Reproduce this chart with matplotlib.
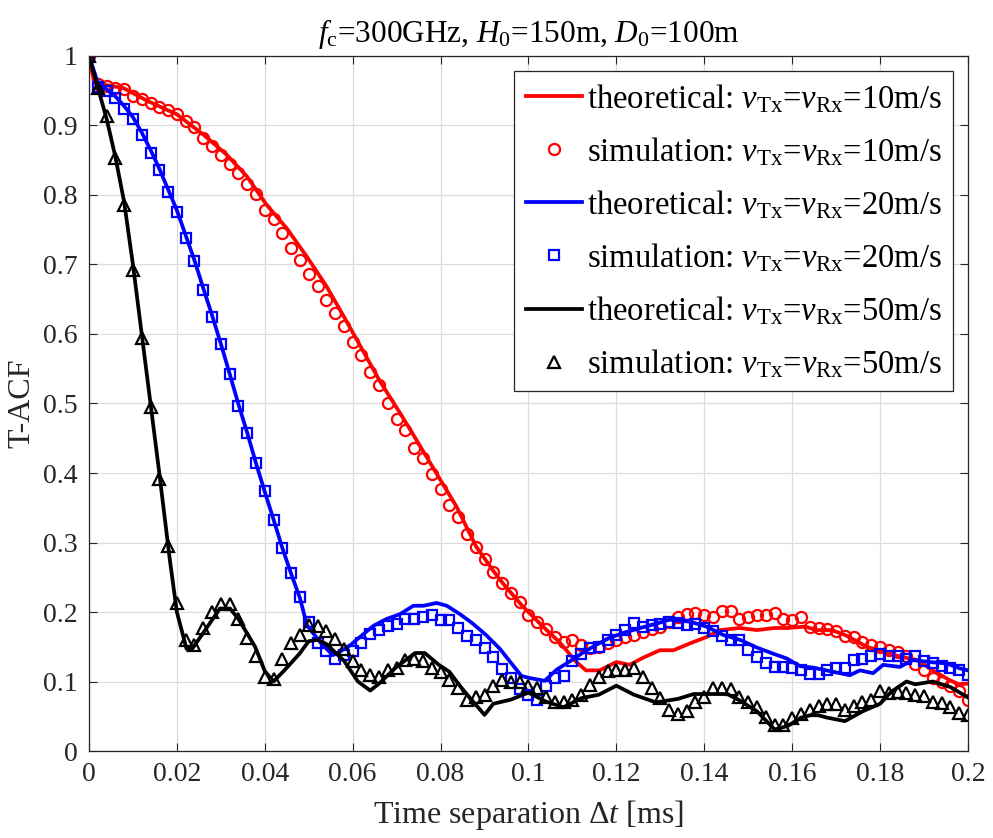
import numpy as np
import matplotlib
matplotlib.use('Agg')
import matplotlib.pyplot as plt

plt.rcParams['font.family'] = ['Liberation Serif', 'DejaVu Serif']
plt.rcParams['mathtext.fontset'] = 'custom'
plt.rcParams['mathtext.rm'] = 'Liberation Serif'
plt.rcParams['mathtext.it'] = 'Liberation Serif:italic'
plt.rcParams['mathtext.bf'] = 'Liberation Serif:bold'

# simulation samples, every 0.002 ms
sim_x = [i * 0.002 for i in range(101)]

sim_10 = [1.0, 0.959, 0.957, 0.954, 0.952, 0.943, 0.938, 0.933, 0.927, 0.922,
          0.916, 0.906, 0.898, 0.882, 0.871, 0.858, 0.845, 0.831, 0.816, 0.801,
          0.778, 0.765, 0.746, 0.724, 0.707, 0.686, 0.669, 0.649, 0.630, 0.612,
          0.588, 0.570, 0.545, 0.526, 0.501, 0.478, 0.462, 0.436, 0.421, 0.399,
          0.377, 0.354, 0.336, 0.312, 0.294, 0.276, 0.258, 0.242, 0.227, 0.214,
          0.196, 0.186, 0.175, 0.164, 0.157, 0.160, 0.153, 0.148, 0.149, 0.156,
          0.160, 0.164, 0.167, 0.171, 0.175, 0.179, 0.185, 0.193, 0.197, 0.198,
          0.196, 0.193, 0.201, 0.201, 0.190, 0.193, 0.196, 0.196, 0.199, 0.190,
          0.189, 0.193, 0.179, 0.177, 0.175, 0.173, 0.166, 0.164, 0.157, 0.153,
          0.149, 0.146, 0.142, 0.136, 0.125, 0.117, 0.105, 0.100, 0.094, 0.087,
          0.074]

sim_20 = [1.0, 0.955, 0.949, 0.940, 0.924, 0.910, 0.886, 0.861, 0.836, 0.805,
          0.775, 0.738, 0.705, 0.663, 0.624, 0.586, 0.543, 0.497, 0.458, 0.414,
          0.374, 0.332, 0.292, 0.256, 0.221, 0.185, 0.156, 0.144, 0.132, 0.138,
          0.144, 0.155, 0.168, 0.174, 0.180, 0.183, 0.190, 0.190, 0.193, 0.196,
          0.189, 0.189, 0.177, 0.166, 0.160, 0.148, 0.135, 0.118, 0.105, 0.089,
          0.081, 0.073, 0.093, 0.105, 0.108, 0.129, 0.139, 0.148, 0.149, 0.160,
          0.167, 0.174, 0.184, 0.179, 0.181, 0.183, 0.186, 0.184, 0.181, 0.183,
          0.177, 0.173, 0.166, 0.160, 0.160, 0.146, 0.135, 0.127, 0.121, 0.121,
          0.119, 0.117, 0.111, 0.111, 0.116, 0.119, 0.119, 0.131, 0.132, 0.137,
          0.140, 0.136, 0.136, 0.133, 0.137, 0.129, 0.127, 0.122, 0.119, 0.117,
          0.109]

sim_50 = [1.0, 0.954, 0.913, 0.853, 0.786, 0.692, 0.594, 0.495, 0.391, 0.295,
          0.213, 0.160, 0.153, 0.177, 0.200, 0.212, 0.212, 0.190, 0.162, 0.136,
          0.106, 0.104, 0.132, 0.156, 0.167, 0.181, 0.180, 0.172, 0.161, 0.147,
          0.129, 0.117, 0.109, 0.106, 0.117, 0.119, 0.131, 0.133, 0.129, 0.119,
          0.114, 0.102, 0.090, 0.074, 0.078, 0.081, 0.093, 0.102, 0.100, 0.100,
          0.093, 0.090, 0.078, 0.070, 0.070, 0.074, 0.081, 0.095, 0.107, 0.115,
          0.117, 0.117, 0.119, 0.106, 0.090, 0.076, 0.059, 0.053, 0.058, 0.070,
          0.078, 0.090, 0.090, 0.089, 0.078, 0.070, 0.064, 0.049, 0.037, 0.037,
          0.047, 0.053, 0.059, 0.065, 0.068, 0.068, 0.059, 0.065, 0.071, 0.074,
          0.086, 0.084, 0.085, 0.084, 0.081, 0.079, 0.071, 0.069, 0.064, 0.055,
          0.052]

# theoretical curves
th10_x = [0, 0.0012, 0.0078, 0.0131, 0.020, 0.026, 0.0313, 0.0359, 0.0404, 0.045,
          0.0496, 0.054, 0.058, 0.0662, 0.0708, 0.0738, 0.079, 0.0836, 0.0881, 0.0919,
          0.0942, 0.0987, 0.1033, 0.107, 0.1109, 0.1131, 0.1162, 0.120, 0.123, 0.126,
          0.1299, 0.133, 0.1368, 0.1405, 0.1436, 0.148, 0.152, 0.156, 0.159, 0.163,
          0.1655, 0.169, 0.172, 0.177, 0.1807, 0.1845, 0.1883, 0.192, 0.1958, 0.198, 0.2]
th10_y = [1.0, 0.961, 0.954, 0.936, 0.916, 0.887, 0.858, 0.827, 0.786, 0.752,
          0.711, 0.669, 0.625, 0.532, 0.486, 0.455, 0.400, 0.352, 0.294, 0.260,
          0.241, 0.208, 0.179, 0.157, 0.128, 0.116, 0.116, 0.128, 0.124, 0.134,
          0.145, 0.145, 0.155, 0.164, 0.174, 0.177, 0.174, 0.177, 0.177, 0.179,
          0.174, 0.174, 0.167, 0.150, 0.143, 0.136, 0.131, 0.116, 0.102, 0.096, 0.097]

th20_x = [0, 0.002, 0.004, 0.006, 0.008, 0.010, 0.012, 0.014, 0.016, 0.018,
          0.020, 0.022, 0.024, 0.026, 0.028, 0.030, 0.032, 0.034, 0.036, 0.038,
          0.040, 0.042, 0.044, 0.046, 0.048, 0.0496, 0.0528, 0.0555, 0.0571, 0.0594,
          0.0624, 0.0647, 0.0677, 0.0708, 0.0738, 0.0761, 0.0791, 0.0814, 0.0844, 0.0874,
          0.0905, 0.0935, 0.0965, 0.0984, 0.1003, 0.1037, 0.1064, 0.1094, 0.1125, 0.1155,
          0.1185, 0.1216, 0.1254, 0.1284, 0.1322, 0.1368, 0.1405, 0.1443, 0.1481, 0.1519,
          0.1557, 0.1588, 0.1618, 0.1648, 0.1678, 0.1709, 0.1731, 0.1754, 0.1784, 0.1807,
          0.1845, 0.1875, 0.1913, 0.1951, 0.1981, 0.2]
th20_y = [1.0, 0.962, 0.952, 0.942, 0.928, 0.912, 0.890, 0.865, 0.838, 0.808,
          0.778, 0.742, 0.706, 0.666, 0.627, 0.586, 0.543, 0.499, 0.458, 0.414,
          0.373, 0.333, 0.292, 0.255, 0.220, 0.181, 0.155, 0.138, 0.143, 0.152,
          0.168, 0.180, 0.190, 0.197, 0.209, 0.209, 0.213, 0.209, 0.197, 0.183,
          0.166, 0.147, 0.123, 0.108, 0.105, 0.101, 0.117, 0.129, 0.142, 0.153,
          0.163, 0.170, 0.177, 0.182, 0.189, 0.186, 0.179, 0.167, 0.160, 0.149,
          0.140, 0.133, 0.122, 0.120, 0.116, 0.112, 0.109, 0.116, 0.112, 0.124,
          0.121, 0.131, 0.128, 0.126, 0.119, 0.116]

th50_x = [0, 0.002, 0.004, 0.006, 0.008, 0.010, 0.012, 0.014, 0.016, 0.0184,
          0.020, 0.0222, 0.0236, 0.026, 0.0298, 0.0321, 0.034, 0.0378, 0.040, 0.042,
          0.0446, 0.0479, 0.050, 0.052, 0.054, 0.058, 0.0612, 0.064, 0.066, 0.0698,
          0.0742, 0.0764, 0.0796, 0.082, 0.0845, 0.087, 0.090, 0.092, 0.096, 0.100,
          0.104, 0.108, 0.112, 0.116, 0.120, 0.124, 0.129, 0.134, 0.1376, 0.1452,
          0.148, 0.152, 0.156, 0.159, 0.162, 0.165, 0.168, 0.172, 0.176, 0.180,
          0.1825, 0.186, 0.188, 0.192, 0.196, 0.2]
th50_y = [1.0, 0.955, 0.910, 0.855, 0.790, 0.700, 0.600, 0.500, 0.400, 0.275,
          0.200, 0.147, 0.148, 0.170, 0.205, 0.205, 0.190, 0.150, 0.115, 0.100,
          0.117, 0.140, 0.158, 0.160, 0.154, 0.130, 0.100, 0.087, 0.097, 0.120,
          0.141, 0.141, 0.124, 0.114, 0.093, 0.074, 0.052, 0.068, 0.074, 0.084,
          0.071, 0.063, 0.076, 0.081, 0.094, 0.081, 0.070, 0.075, 0.082, 0.082,
          0.073, 0.057, 0.031, 0.036, 0.048, 0.053, 0.048, 0.043, 0.057, 0.068,
          0.085, 0.100, 0.096, 0.100, 0.092, 0.077]

fig = plt.figure(figsize=(9.93, 8.38), dpi=100)
ax = fig.add_axes([0.0896, 0.1038, 0.8852, 0.8294])

lw = 2.7
ax.plot(th10_x, th10_y, '-', color='red', lw=lw,
        label=r'theoretical: $v_{\rm Tx}$=$v_{\rm Rx}$=10m/s')
ax.plot(sim_x, sim_10, 'o', mfc='none', mec='red', ms=8, mew=1.6, ls='none',
        label=r'simulation: $v_{\rm Tx}$=$v_{\rm Rx}$=10m/s')
ax.plot(th20_x, th20_y, '-', color='blue', lw=lw,
        label=r'theoretical: $v_{\rm Tx}$=$v_{\rm Rx}$=20m/s')
ax.plot(sim_x, sim_20, 's', mfc='none', mec='blue', ms=6.5, mew=1.6, ls='none',
        label=r'simulation: $v_{\rm Tx}$=$v_{\rm Rx}$=20m/s')
ax.plot(th50_x, th50_y, '-', color='black', lw=lw,
        label=r'theoretical: $v_{\rm Tx}$=$v_{\rm Rx}$=50m/s')
ax.plot(sim_x, sim_50, '^', mfc='none', mec='black', ms=8, mew=1.6, ls='none',
        label=r'simulation: $v_{\rm Tx}$=$v_{\rm Rx}$=50m/s')

ax.set_xlim(0, 0.2)
ax.set_ylim(0, 1)
xt = [i * 0.02 for i in range(11)]
ax.set_xticks(xt)
ax.set_xticklabels(['0', '0.02', '0.04', '0.06', '0.08', '0.1', '0.12', '0.14', '0.16', '0.18', '0.2'])
yt = [i * 0.1 for i in range(11)]
ax.set_yticks(yt)
ax.set_yticklabels(['0', '0.1', '0.2', '0.3', '0.4', '0.5', '0.6', '0.7', '0.8', '0.9', '1'])
ax.tick_params(direction='in', top=True, right=True, length=6, width=0.8,
               labelsize=20, colors='#262626', pad=8)
ax.grid(True, color='#dcdcdc', lw=0.9)
ax.set_axisbelow(True)
for s in ax.spines.values():
    s.set_color('#262626')
    s.set_linewidth(0.9)

ax.set_xlabel(r'Time separation $\Delta t$ [ms]', fontsize=23, color='#262626', labelpad=8)
ax.set_ylabel('T-ACF', fontsize=23, color='#262626', labelpad=5)
ax.set_title(r'$f_{\rm c}$=300GHz, $H_0$=150m, $D_0$=100m', fontsize=22.5, pad=10)

leg = ax.legend(loc='upper right', bbox_to_anchor=(0.983, 0.979), borderaxespad=0,
                fontsize=23.5, numpoints=1, handlelength=1.72, handletextpad=0.15,
                labelspacing=0.62, borderpad=0.35, fancybox=False, framealpha=1,
                edgecolor='#262626')
leg.get_frame().set_linewidth(0.9)

fig.savefig('out.png', dpi=100)
